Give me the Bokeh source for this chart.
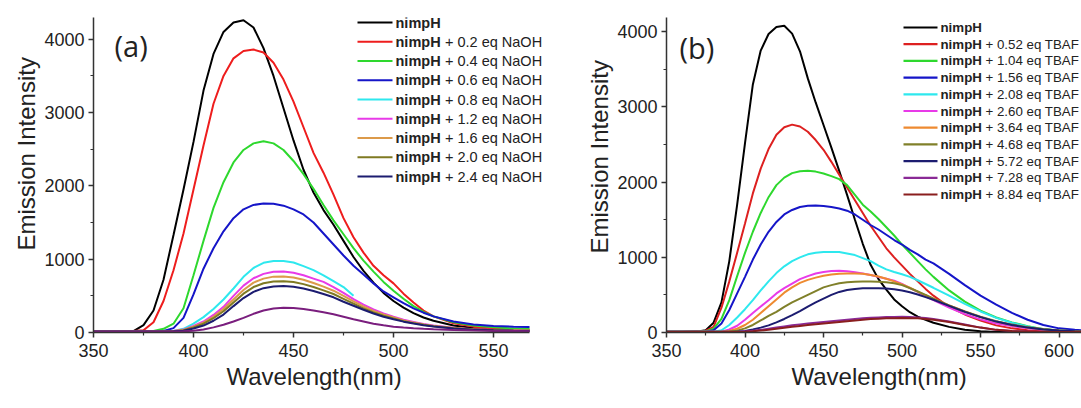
from bokeh.plotting import figure
from bokeh.layouts import row
from bokeh.models import Label, BoxAnnotation, Range1d, FixedTicker, Title
from bokeh.embed import file_html
from bokeh.resources import INLINE

FONT = "Liberation Sans"

# ---------------- panel (a): NaOH titration ----------------
WL_A = [350, 360, 370, 375, 380, 385, 390, 395, 400, 405, 410, 415, 420, 425, 430,
        435, 440, 445, 450, 455, 460, 465, 470, 475, 480, 485, 490, 495, 500, 505,
        510, 515, 520, 530, 540, 550, 560, 568]

A_BLACK = [20, 20, 20, 100, 300, 720, 1330, 1950, 2600, 3300, 3800, 4100, 4230, 4260, 4160,
           3880, 3500, 3060, 2620, 2220, 1910, 1670, 1470, 1250, 1030, 840, 680, 540, 430, 340,
           265, 205, 160, 95, 60, 42, 32, 28]
A_RED = [20, 20, 20, 30, 140, 430, 850, 1350, 1950, 2550, 3120, 3500, 3740, 3840, 3860,
         3820, 3680, 3450, 3150, 2800, 2450, 2180, 1880, 1560, 1300, 1090, 910, 780, 670, 530,
         410, 300, 220, 125, 80, 55, 45, 40]
A_GREEN = [15, 15, 15, 15, 20, 50, 120, 330, 780, 1250, 1700, 2050, 2320, 2490, 2580,
           2610, 2580, 2490, 2340, 2160, 1960, 1740, 1530, 1340, 1150, 980, 830, 690, 570, 460,
           360, 280, 220, 140, 95, 70, 55, 50]
A_BLUE = [15, 15, 15, 15, 15, 20, 60, 200, 520, 870, 1150, 1380, 1560, 1680, 1740,
          1760, 1755, 1730, 1680, 1610, 1500, 1350, 1200, 1050, 910, 790, 670, 560, 480, 400,
          330, 270, 220, 150, 110, 90, 80, 75]
A_CYAN = [15, 15, 15, 15, 15, 20, 20, 50, 120, 210, 320, 450, 600, 760, 880,
          950, 975, 975, 955, 905, 850, 780, 700, 620, 500]
A_MAGENTA = [15, 15, 15, 15, 15, 15, 20, 40, 90, 150, 240, 350, 500, 640, 740,
             800, 830, 832, 815, 780, 735, 690, 620, 540, 455, 380, 315, 260, 215, 175,
             145, 115, 95, 65, 45, 35, 30, 25]
A_ORANGE = [15, 15, 15, 15, 15, 15, 20, 35, 80, 135, 215, 320, 450, 580, 680,
            735, 762, 765, 750, 720, 675, 625, 570, 500, 425, 355, 295, 245, 205, 165,
            135, 110, 90, 60, 42, 32, 28, 25]
A_OLIVE = [15, 15, 15, 15, 15, 15, 18, 30, 70, 120, 195, 290, 410, 530, 620,
           672, 697, 700, 688, 660, 620, 575, 525, 460, 395, 330, 275, 230, 190, 155,
           128, 105, 85, 57, 40, 30, 26, 24]
A_NAVY = [15, 15, 15, 15, 15, 15, 17, 25, 55, 95, 160, 245, 360, 470, 555,
          605, 628, 633, 625, 600, 565, 525, 480, 420, 365, 310, 260, 215, 180, 148,
          122, 100, 82, 55, 38, 30, 25, 22]
A_PURPLE = [15, 15, 15, 15, 15, 15, 15, 17, 25, 40, 70, 105, 150, 200, 255,
            300, 328, 336, 333, 322, 300, 275, 250, 215, 180, 150, 120, 98, 80, 68,
            58, 50, 44, 35, 28, 22, 20, 18]

SERIES_A = [A_BLACK, A_RED, A_GREEN, A_BLUE, A_CYAN, A_MAGENTA, A_ORANGE, A_OLIVE, A_NAVY, A_PURPLE]
COLORS_A = ["#000000", "#ee1d1d", "#2ed82e", "#1515c8", "#2ee8ee", "#e83ae8",
            "#dc9a4a", "#7f7a22", "#1c1c70", "#7a1e7e"]
LABELS_A = ["nimpH", "nimpH + 0.2 eq NaOH", "nimpH + 0.4 eq NaOH", "nimpH + 0.6 eq NaOH",
            "nimpH + 0.8 eq NaOH", "nimpH + 1.2 eq NaOH", "nimpH + 1.6 eq NaOH",
            "nimpH + 2.0 eq NaOH", "nimpH + 2.4 eq NaOH"]
XTICKS_A = [350, 400, 450, 500, 550]
XMINOR_A = [375, 425, 475, 525]
XAXIS_END_A = 568

# ---------------- panel (b): TBAF titration ----------------
WL_B = [350, 360, 370, 375, 380, 385, 390, 395, 400, 405, 410, 415, 420, 425, 430,
        435, 440, 445, 450, 455, 460, 465, 470, 475, 480, 485, 490, 495, 500, 505,
        510, 515, 520, 530, 540, 550, 560, 570, 580, 590, 600, 610, 615]

B_BLACK = [10, 10, 15, 30, 130, 400, 950, 1700, 2520, 3300, 3750, 3970, 4065, 4080, 3975,
           3740, 3380, 3060, 2760, 2460, 2150, 1830, 1500, 1180, 900, 710, 570, 440, 350, 270,
           210, 170, 130, 75, 38, 16, 8, 6, 5, 5, 5, 5, 5]
B_RED = [10, 10, 15, 25, 75, 330, 680, 1060, 1450, 1850, 2180, 2440, 2630, 2730, 2765,
         2740, 2670, 2560, 2430, 2270, 2100, 1930, 1760, 1590, 1420, 1270, 1120, 1000, 890, 780,
         680, 580, 490, 340, 240, 160, 95, 55, 30, 15, 10, 8, 8]
B_GREEN = [10, 10, 10, 15, 50, 180, 430, 750, 1060, 1340, 1590, 1800, 1960, 2060, 2120,
           2145, 2150, 2140, 2115, 2080, 2040, 1960, 1830, 1700, 1610, 1510, 1400, 1290, 1170, 1060,
           950, 840, 740, 560, 410, 290, 200, 135, 85, 45, 25, 12, 10]
B_BLUE = [10, 10, 10, 10, 30, 120, 300, 520, 740, 970, 1170, 1340, 1470, 1570, 1630,
          1670, 1685, 1690, 1684, 1670, 1650, 1620, 1570, 1500, 1430, 1370, 1300, 1230, 1170, 1100,
          1040, 970, 920, 780, 630, 490, 370, 260, 170, 100, 55, 35, 30]
B_CYAN = [10, 10, 10, 10, 10, 30, 100, 200, 310, 430, 560, 680, 790, 880, 950,
          1000, 1040, 1060, 1070, 1072, 1070, 1050, 1030, 990, 950, 890, 840, 805, 775, 740,
          695, 645, 595, 490, 380, 280, 195, 130, 80, 45, 25, 15, 12]
B_MAGENTA = [10, 10, 10, 10, 10, 10, 40, 90, 170, 260, 345, 430, 520, 590, 650,
             710, 750, 785, 805, 818, 822, 815, 800, 785, 765, 740, 715, 690, 645, 590,
             540, 480, 430, 330, 245, 175, 120, 85, 55, 35, 22, 15, 13]
B_ORANGE = [10, 10, 10, 10, 10, 10, 20, 50, 100, 170, 260, 350, 440, 530, 600,
            660, 700, 730, 755, 770, 780, 786, 786, 780, 765, 745, 715, 680, 640, 595,
            545, 495, 450, 360, 280, 205, 145, 100, 65, 40, 25, 15, 13]
B_OLIVE = [10, 10, 10, 10, 10, 10, 10, 25, 55, 100, 160, 220, 275, 340, 400,
           450, 500, 550, 600, 630, 655, 668, 676, 680, 680, 676, 668, 655, 630, 590,
           545, 500, 450, 360, 280, 210, 150, 105, 70, 45, 28, 18, 15]
B_NAVY = [10, 10, 10, 10, 10, 10, 10, 10, 20, 40, 65, 95, 135, 180, 230,
          285, 345, 400, 450, 500, 540, 565, 580, 588, 590, 590, 585, 575, 558, 535,
          505, 470, 435, 355, 275, 205, 145, 100, 65, 40, 25, 15, 13]
B_PURPLE = [5, 5, 5, 5, 5, 5, 5, 8, 15, 25, 35, 50, 65, 80, 95,
            108, 120, 130, 140, 150, 160, 170, 180, 188, 195, 200, 205, 207, 208, 205,
            200, 192, 180, 145, 105, 65, 35, 20, 12, 8, 6, 5, 5]
B_MAROON = [5, 5, 5, 5, 5, 5, 5, 6, 10, 17, 25, 37, 50, 62, 75,
            88, 100, 110, 120, 130, 140, 150, 160, 170, 178, 183, 188, 190, 192, 191,
            188, 180, 170, 140, 100, 65, 35, 20, 12, 8, 6, 5, 5]

SERIES_B = [B_BLACK, B_RED, B_GREEN, B_BLUE, B_CYAN, B_MAGENTA, B_ORANGE, B_OLIVE, B_NAVY,
            B_PURPLE, B_MAROON]
COLORS_B = ["#000000", "#dd2020", "#2ed82e", "#1515c8", "#2ee8ee", "#e83ae8",
            "#ee8a30", "#80802a", "#1c1c70", "#8a2a96", "#8a1e1e"]
LABELS_B = ["nimpH", "nimpH + 0.52 eq TBAF", "nimpH + 1.04 eq TBAF", "nimpH + 1.56 eq TBAF",
            "nimpH + 2.08 eq TBAF", "nimpH + 2.60 eq TBAF", "nimpH + 3.64 eq TBAF",
            "nimpH + 4.68 eq TBAF", "nimpH + 5.72 eq TBAF", "nimpH + 7.28 eq TBAF",
            "nimpH + 8.84 eq TBAF"]
XTICKS_B = [350, 400, 450, 500, 550, 600]
XMINOR_B = [375, 425, 475, 525, 575]
XAXIS_END_B = 614.3

YTICKS = [0, 1000, 2000, 3000, 4000]
YMINOR = [500, 1500, 2500, 3500]

TXT = "#222222"


def add_label(p, geom, px, py, text, size, bold=False, align="left", baseline="middle",
              font=FONT):
    fl, fb = geom
    p.add_layout(Label(x=px - fl, y=fb - py, x_units="screen", y_units="screen", text=text,
                       text_font=font, text_font_size=size,
                       text_font_style="bold" if bold else "normal",
                       text_align=align, text_baseline=baseline,
                       text_color=TXT))


def make_panel(wl, series, colors, labels, xticks, xminor, xr, axis_end, yr, width, border,
               fig_left, tag, tag_pos, ytitle_offset, xtitle_offset, leg_x0, leg_x1, leg_y0,
               leg_dy, leg_size, bold_w):
    bl, br, bt, bb = border
    p = figure(width=width, height=408, output_backend="svg", toolbar_location=None,
               x_range=Range1d(*xr), y_range=Range1d(*yr),
               min_border_left=bl, min_border_right=br, min_border_top=bt,
               min_border_bottom=bb)
    p.outline_line_color = None
    p.grid.visible = False
    p.background_fill_color = "white"
    p.border_fill_color = "white"

    for vals, c in zip(series, colors):
        n = min(len(vals), len(wl))
        p.line(wl[:n], vals[:n], line_color=c, line_width=2.0)

    p.xaxis.ticker = FixedTicker(ticks=xticks, minor_ticks=xminor)
    p.yaxis.ticker = FixedTicker(ticks=YTICKS, minor_ticks=YMINOR)
    p.xaxis.bounds = (xr[0], axis_end)
    for ax in (p.xaxis[0], p.yaxis[0]):
        ax.axis_line_color = "#333333"
        ax.axis_line_width = 1.5
        ax.major_tick_line_color = "#333333"
        ax.major_tick_line_width = 1.5
        ax.minor_tick_line_color = "#333333"
        ax.minor_tick_line_width = 1.2
        ax.major_tick_out = 5
        ax.major_tick_in = 0
        ax.minor_tick_out = 3
        ax.minor_tick_in = 0
        ax.major_label_text_font = FONT
        ax.major_label_text_font_size = "18px"
        ax.major_label_text_color = TXT
    p.yaxis.major_label_standoff = 4
    p.xaxis.major_label_standoff = 6

    p.add_layout(Title(text="Emission Intensity", align="left", offset=ytitle_offset,
                       text_font=FONT, text_font_size="24px", text_font_style="normal",
                       text_color=TXT, standoff=4), "left")
    p.add_layout(Title(text="Wavelength(nm)", align="left", offset=xtitle_offset,
                       text_font=FONT, text_font_size="24px", text_font_style="normal",
                       text_color=TXT, standoff=2), "below")

    # frame geometry in page pixels (left, bottom)
    geom = (fig_left + bl, 408 - bb)
    add_label(p, geom, tag_pos[0], tag_pos[1], tag, "29px", align="left",
              baseline="middle", font="Open Sans")

    fl, fb = geom
    for i, (lab, c) in enumerate(zip(labels, colors)):
        py = leg_y0 + i * leg_dy
        p.add_layout(BoxAnnotation(left=leg_x0 - fl, right=leg_x1 - fl,
                                   bottom=fb - py - 1.1, top=fb - py + 1.1,
                                   left_units="screen", right_units="screen",
                                   bottom_units="screen", top_units="screen",
                                   fill_color=c, fill_alpha=1.0, line_color=None))
        add_label(p, geom, leg_x1 + 3, py, "nimpH", leg_size, bold=True)
        rest = lab[len("nimpH"):].strip()
        if rest:
            add_label(p, geom, leg_x1 + 3 + bold_w, py, rest, leg_size)
    return p


pa = make_panel(WL_A, SERIES_A, COLORS_A, LABELS_A, XTICKS_A, XMINOR_A,
                (350, 582), XAXIS_END_A, (0, 4297), 560, (93, 3, 15, 69), 0,
                "(a)", (114, 52), 82, 133, 357, 392, 29, 19.25, "14.5px", 49.5)
pb = make_panel(WL_B, SERIES_B, COLORS_B, LABELS_B, XTICKS_B, XMINOR_B,
                (350, 614.3), XAXIS_END_B, (0, 4190), 521, (106, 0, 17, 76), 560,
                "(b)", (679, 47), 79, 125, 903, 937, 27, 16.7, "13.3px", 45.0)

layout = row(pa, pb)
open("out.html", "w").write(file_html(layout, INLINE))
